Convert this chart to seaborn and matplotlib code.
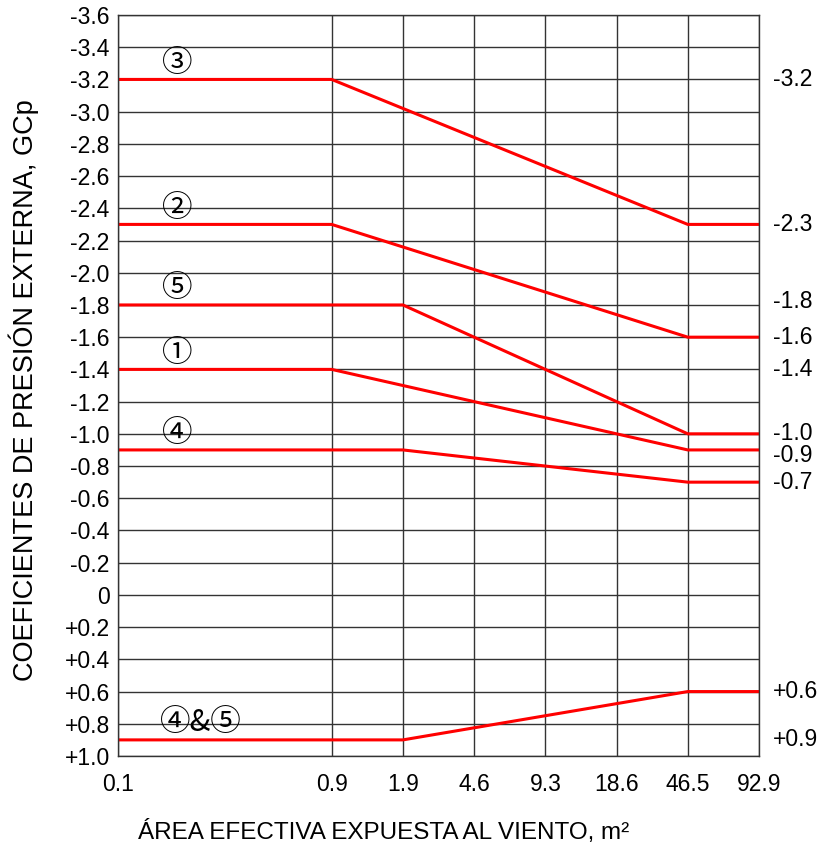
import numpy as np
import pandas as pd
import matplotlib
matplotlib.use("Agg")
import matplotlib.pyplot as plt
import matplotlib.transforms as mtransforms
import seaborn as sns

# Effective wind area ticks (m²) and the evenly spaced slots they occupy
area_ticks = [0.1, 0.9, 1.9, 4.6, 9.3, 18.6, 46.5, 92.9]
area_labels = ["0.1", "0.9", "1.9", "4.6", "9.3", "18.6", "46.5", "92.9"]
area_slots = [0, 3, 4, 5, 6, 7, 8, 9]

# External pressure coefficient curves, one per roof zone
zone_names = ["③", "②", "⑤", "①", "④", "④&⑤"]
zone_areas = [
    [0.1, 0.9, 46.5, 92.9],
    [0.1, 0.9, 46.5, 92.9],
    [0.1, 1.9, 46.5, 92.9],
    [0.1, 0.9, 46.5, 92.9],
    [0.1, 1.9, 46.5, 92.9],
    [0.1, 1.9, 46.5, 92.9],
]
zone_gcp = [
    [-3.2, -3.2, -2.3, -2.3],
    [-2.3, -2.3, -1.6, -1.6],
    [-1.8, -1.8, -1.0, -1.0],
    [-1.4, -1.4, -0.9, -0.9],
    [-0.9, -0.9, -0.7, -0.7],
    [0.9, 0.9, 0.6, 0.6],
]

rows = []
for name, xs, ys in zip(zone_names, zone_areas, zone_gcp):
    for x, y in zip(xs, ys):
        rows.append({"zona": name, "area": x, "gcp": y})
df = pd.DataFrame(rows)

sns.set_theme(style="white")
plt.rcParams["font.family"] = ["Liberation Sans", "DejaVu Sans"]

fig = plt.figure(figsize=(8.35, 8.51), dpi=100)
ax = fig.add_axes([118 / 835, 1 - 756 / 851, 641 / 835, 741 / 851])


def fwd(a):
    return np.interp(a, area_ticks, area_slots)


def inv(s):
    return np.interp(s, area_slots, area_ticks)


ax.set_xscale("function", functions=(fwd, inv))

sns.lineplot(data=df, x="area", y="gcp", units="zona", estimator=None,
             color="#ff0000", linewidth=2.2, sort=False, ax=ax, legend=False)

ax.set_xlim(0.1, 92.9)
ax.set_ylim(1.0, -3.6)

ax.set_xticks(area_ticks)
ax.set_xticklabels(area_labels)
ax.xaxis.set_minor_locator(matplotlib.ticker.NullLocator())

yt = np.round(np.arange(-3.6, 1.01, 0.2), 1)


def fmt(v):
    if abs(v) < 1e-9:
        return "0"
    return f"{v:+.1f}"


TICK_FS = 16.5
ax.set_yticks(yt)
ax.set_yticklabels([fmt(v) for v in yt])
ax.tick_params(axis="x", length=0, pad=12, labelsize=TICK_FS, colors="black")
ax.tick_params(axis="y", length=0, pad=6, labelsize=TICK_FS, colors="black")

ax.grid(True, color="#333333", linewidth=1.0)
for sp in ax.spines.values():
    sp.set_color("#333333")
    sp.set_linewidth(1.0)
ax.set_xlabel("")
ax.set_ylabel("")

# Zone markers above each curve
lab_trans = mtransforms.blended_transform_factory(ax.transAxes, ax.transData)
for name, ys in zip(zone_names, zone_gcp):
    xf = 0.13 if "&" in name else 0.092
    dy = 0.11 if "&" in name else 0.1
    ax.text(xf, ys[0] - dy, name, transform=lab_trans, ha="center", va="center",
            fontsize=22, family=["Noto Sans CJK JP"], color="black")

# Start and end values listed on the right side
end_vals = sorted({round(v, 1) for ys in zone_gcp for v in (ys[0], ys[-1])})
nudge = {-0.9: 0.035, -1.8: -0.02}
end_trans = mtransforms.blended_transform_factory(ax.transAxes, ax.transData)
for v in end_vals:
    ax.text(1 + 14 / 641, v + nudge.get(v, 0.0), fmt(v), transform=end_trans,
            ha="left", va="center", fontsize=TICK_FS, color="black")

fig.text(24 / 835, 1 - 390 / 851, "COEFICIENTES DE PRESIÓN EXTERNA, GCp",
         rotation=90, ha="center", va="center", fontsize=19.5, color="black")
fig.text(384 / 835, 1 - 832 / 851, "ÁREA EFECTIVA EXPUESTA AL VIENTO, m²",
         ha="center", va="center", fontsize=17.5, color="black")

fig.savefig("out.png", dpi=100, facecolor="white")
